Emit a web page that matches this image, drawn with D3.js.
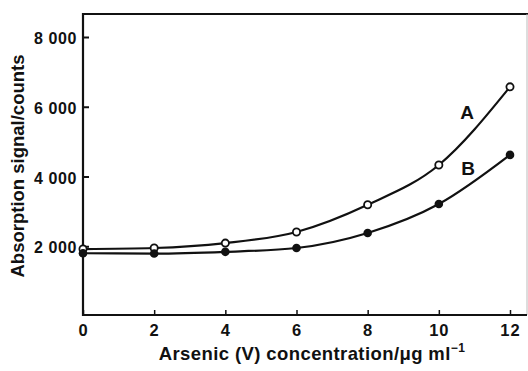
<!DOCTYPE html>
<html><head><meta charset="utf-8">
<script src="https://cdn.jsdelivr.net/npm/d3@7"></script>
<style>body{margin:0;background:#fff}svg{display:block}text{font-family:"Liberation Sans",Arial,sans-serif;font-weight:bold;fill:#111}</style>
</head><body><svg id="c" width="528" height="371"></svg>
<script>
const concentrations = [0, 2, 4, 6, 8, 10, 12];
const seriesA = [1920, 1950, 2090, 2410, 3190, 4330, 6570];
const seriesB = [1800, 1790, 1840, 1950, 2380, 3210, 4620];
const xTicks = [0, 2, 4, 6, 8, 10, 12];
const yTicks = [2000, 4000, 6000, 8000];
const yTickLabels = ["2 000", "4 000", "6 000", "8 000"];

const svg = d3.select("#c");
const x = d3.scaleLinear().domain([0, 12]).range([83, 510]);
const y = d3.scaleLinear().domain([0, 8000]).range([316, 37]);
const ink = "#111";

// frame
svg.append("line").attr("x1",83).attr("x2",528).attr("y1",14).attr("y2",14).attr("stroke",ink).attr("stroke-width",2);
svg.append("line").attr("x1",527).attr("x2",527).attr("y1",14).attr("y2",315).attr("stroke","#bbb").attr("stroke-width",1);

const yAxis = d3.axisRight(y).tickValues(yTicks).tickSize(6).tickFormat("");
const gy = svg.append("g").attr("transform","translate(83,0)").call(yAxis);
gy.select(".domain").remove();
gy.selectAll(".tick line").attr("stroke",ink).attr("stroke-width",2);
svg.append("line").attr("x1",83).attr("x2",83).attr("y1",13).attr("y2",316).attr("stroke",ink).attr("stroke-width",2.2);

const xAxis = d3.axisTop(x).tickValues(xTicks).tickSize(5).tickFormat("");
const gx = svg.append("g").attr("transform","translate(0,315)").call(xAxis);
gx.select(".domain").remove();
gx.selectAll(".tick line").attr("stroke",ink).attr("stroke-width",1.5);
svg.append("line").attr("x1",82).attr("x2",527).attr("y1",315).attr("y2",315).attr("stroke",ink).attr("stroke-width",2.2);

// tick labels
svg.selectAll(".yl").data(yTicks).join("text").attr("class","yl")
  .attr("x",77).attr("y",d=>y(d)+7).attr("text-anchor","end").attr("font-size",16).attr("letter-spacing",0.6)
  .text((d,i)=>yTickLabels[i]);
svg.selectAll(".xl").data(xTicks).join("text").attr("class","xl")
  .attr("x",d=>x(d)+0.5).attr("y",336).attr("text-anchor","middle").attr("font-size",16.5).attr("letter-spacing",1)
  .text(d=>d);

// axis titles
svg.append("text").attr("transform","translate(24,166) rotate(-90)").attr("text-anchor","middle")
  .attr("font-size",18.5).text("Absorption signal/counts");
const xt = svg.append("text").attr("x",312).attr("y",360).attr("text-anchor","middle").attr("font-size",18.5).attr("letter-spacing",0.4);
xt.append("tspan").text("Arsenic (V) concentration/\u03bcg ml");
xt.append("tspan").attr("dy",-8).attr("font-size",12).text("\u22121");

// curves
const line = d3.line().x((d,i)=>x(concentrations[i])).y(d=>y(d)).curve(d3.curveMonotoneX);
[seriesA, seriesB].forEach(s=>{
  svg.append("path").attr("d",line(s)).attr("fill","none").attr("stroke",ink).attr("stroke-width",2.2);
});
svg.selectAll(".pa").data(seriesA).join("circle").attr("class","pa")
  .attr("cx",(d,i)=>x(concentrations[i])).attr("cy",d=>y(d)).attr("r",3.6)
  .attr("fill","#fff").attr("stroke",ink).attr("stroke-width",1.8);
svg.selectAll(".pb").data(seriesB).join("circle").attr("class","pb")
  .attr("cx",(d,i)=>x(concentrations[i])).attr("cy",d=>y(d)).attr("r",4.3)
  .attr("fill",ink);

svg.append("text").attr("x",467).attr("y",119).attr("text-anchor","middle").attr("font-size",19).text("A");
svg.append("text").attr("x",468).attr("y",175).attr("text-anchor","middle").attr("font-size",19).text("B");
</script></body></html>
